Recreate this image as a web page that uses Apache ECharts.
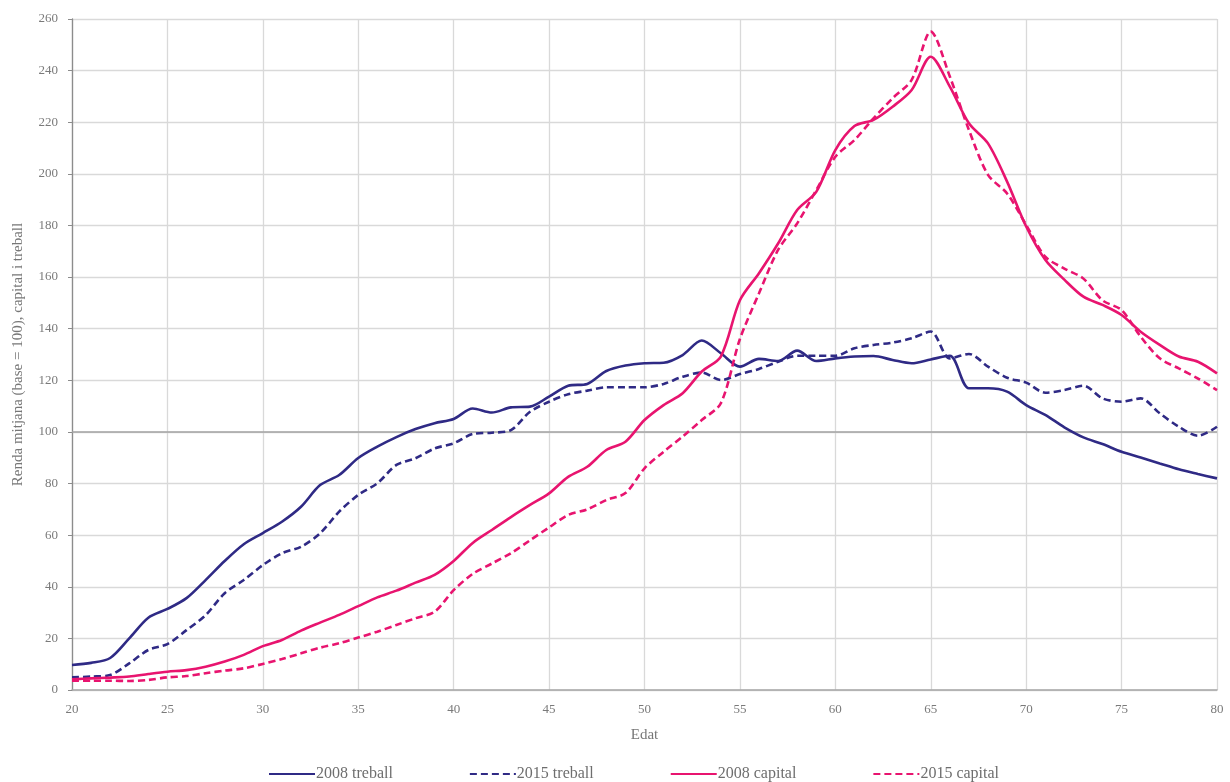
<!DOCTYPE html>
<html>
<head>
<meta charset="utf-8">
<script src="https://cdn.jsdelivr.net/npm/echarts@6/dist/echarts.min.js"></script>
<style>
  html, body { margin: 0; padding: 0; background: #fff; }
  #chart { width: 1230px; height: 782px; }
</style>
</head>
<body>
<div id="chart"></div>
<script>
// edats 20..80
var ages = [20, 21, 22, 23, 24, 25, 26, 27, 28, 29,
            30, 31, 32, 33, 34, 35, 36, 37, 38, 39,
            40, 41, 42, 43, 44, 45, 46, 47, 48, 49,
            50, 51, 52, 53, 54, 55, 56, 57, 58, 59,
            60, 61, 62, 63, 64, 65, 66, 67, 68, 69,
            70, 71, 72, 73, 74, 75, 76, 77, 78, 79, 80];

var treball2008 = [9.7, 10.5, 12.4, 20, 28, 31.4, 35.6, 42.6, 50, 56.5,
                   60.8, 65.2, 71, 79.4, 83.3, 89.9, 94.3, 98, 101.1, 103.4,
                   105, 109.1, 107.5, 109.5, 109.8, 113.7, 117.9, 118.6, 123.6, 125.7,
                   126.6, 126.8, 129.8, 135.4, 130.5, 125.3, 128.3, 127.5, 131.5, 127.5,
                   128.5, 129.2, 129.4, 127.9, 126.6, 128.1, 129.5, 116.9, 116.9, 115.6,
                   110.4, 106.6, 101.8, 97.9, 95.3, 92.3, 90.1, 87.8, 85.5, 83.7, 82];

var treball2015 = [4.9, 5.2, 5.8, 10.3, 15.5, 17.8, 23.2, 29, 37.5, 42.6,
                   48.4, 53, 55.5, 60.7, 69.1, 75.6, 80.1, 87.2, 89.8, 93.6,
                   95.6, 99.2, 99.7, 100.7, 107.8, 111.7, 114.6, 116, 117.3, 117.3,
                   117.3, 118.6, 121.4, 123, 120.1, 122.4, 124.4, 127.2, 129.5, 129.5,
                   129.5, 132.4, 133.7, 134.6, 136.3, 138.9, 128.5, 130.2, 125.3, 121,
                   119.1, 115.2, 116.2, 117.9, 113, 111.7, 113, 107.2, 102, 98.5, 102];

var capital2008 = [4.1, 4.5, 4.8, 5.2, 6.2, 7.1, 7.7, 9, 11, 13.6,
                   17, 19.4, 23, 26.1, 29.1, 32.5, 35.9, 38.5, 41.6, 44.6,
                   50, 57, 62, 67, 71.7, 76.2, 82.6, 86.5, 93, 96.2,
                   104.6, 110.4, 115, 123.4, 129.2, 151, 161.5, 173, 186, 193,
                   209.2, 218.5, 220.9, 226, 232.5, 245.4, 233.8, 219.6, 211.8, 197,
                   179.6, 166.7, 159, 152.4, 149.2, 145.3, 138.8, 133.7, 129.2, 127.2, 122.7];

var capital2015 = [3.6, 3.6, 3.6, 3.5, 3.9, 4.9, 5.4, 6.5, 7.5, 8.4,
                   10.1, 12, 14.2, 16.4, 18.1, 20.3, 22.6, 25.2, 27.8, 30.3,
                   38.7, 45, 49, 53, 58, 63, 67.8, 70, 73.6, 76.3,
                   85.9, 92.3, 98.2, 104.6, 111.1, 136, 153.7, 170.5, 180.8, 193.7,
                   206.6, 213.1, 221.5, 229.3, 236.4, 255.1, 237.7, 217, 199.6, 192.4,
                   180.2, 167.9, 163.3, 159.4, 151, 147.2, 136.9, 128.5, 124.6, 120.7, 116.2];

var seriesNames = ['2008 treball', '2015 treball', '2008 capital', '2015 capital'];

var navy = '#2f2a85';
var pink = '#e8146f';
var fontFam = '"Liberation Serif", "DejaVu Serif", serif';

function pairs(vals) {
    return ages.map(function (a, i) { return [a, vals[i]]; });
}

function makeLine(name, vals, color, dashed) {
    return {
        name: name,
        type: 'line',
        smooth: 0.3,
        showSymbol: false,
        symbol: 'none',
        data: pairs(vals),
        itemStyle: { color: color },
        lineStyle: { color: color, width: 2.6, type: dashed ? [7, 4] : 'solid' },
        z: 3
    };
}

var chart = echarts.init(document.getElementById('chart'));

var series = [
    makeLine(seriesNames[0], treball2008, navy, false),
    makeLine(seriesNames[1], treball2015, navy, true),
    makeLine(seriesNames[2], capital2008, pink, false),
    makeLine(seriesNames[3], capital2015, pink, true)
];
// linia de base = 100 una mica mes fosca
series[0].markLine = {
    silent: true,
    symbol: 'none',
    label: { show: false },
    lineStyle: { color: '#a3a3a3', width: 1.5, type: 'solid' },
    data: [{ yAxis: 100 }],
    z: 1
};

var option = {
    animation: false,
    textStyle: { fontFamily: fontFam },
    grid: { left: 72, right: 13, top: 19, bottom: 92 },
    legend: {
        top: 761,
        left: 263,
        itemWidth: 46,
        itemHeight: 10,
        itemGap: 76,
        itemStyle: { opacity: 0 },
        textStyle: { fontFamily: fontFam, fontSize: 16, color: '#6e6e6e', padding: [0, 0, 0, -4] },
        data: seriesNames
    },
    xAxis: {
        type: 'value',
        min: 20,
        max: 80,
        interval: 5,
        name: 'Edat',
        nameLocation: 'middle',
        nameGap: 38,
        nameTextStyle: { fontFamily: fontFam, fontSize: 15, color: '#777' },
        axisLine: { show: true, lineStyle: { color: '#a6a6a6', width: 1.5 } },
        axisTick: { show: false },
        axisLabel: { fontFamily: fontFam, fontSize: 13, color: '#7a7a7a', margin: 13 },
        splitLine: { show: true, lineStyle: { color: '#d9d9d9', width: 1.3 } }
    },
    yAxis: {
        type: 'value',
        min: 0,
        max: 260,
        interval: 20,
        name: 'Renda mitjana (base = 100), capital i treball',
        nameLocation: 'middle',
        nameGap: 46,
        nameTextStyle: { fontFamily: fontFam, fontSize: 15, color: '#777' },
        axisLine: { show: true, lineStyle: { color: '#8c8c8c', width: 1.3 } },
        axisTick: { show: true, length: 4, lineStyle: { color: '#8c8c8c' } },
        axisLabel: { fontFamily: fontFam, fontSize: 13, color: '#7a7a7a', margin: 14 },
        splitLine: { show: true, lineStyle: { color: '#d9d9d9', width: 1.3 } }
    },
    series: series
};

chart.setOption(option);
</script>
</body>
</html>
